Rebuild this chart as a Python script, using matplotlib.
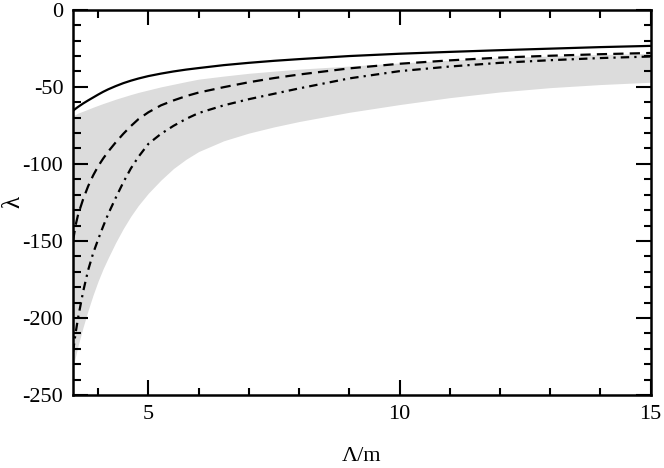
import matplotlib
matplotlib.use("Agg")
import matplotlib.pyplot as plt
import numpy as np

plt.rcParams['font.family'] = ['Liberation Serif', 'DejaVu Serif']

# Lambda/m grid
lam_m = [3.5, 3.55, 3.6, 3.7, 3.8, 3.9, 4.0, 4.1, 4.2, 4.35, 4.5, 4.65, 4.8,
         5.0, 5.25, 5.5, 5.75, 6.0, 6.5, 7.0, 7.5, 8.0, 9.0, 10.0, 11.0,
         12.0, 13.0, 14.0, 15.0]

solid = [-65.5, -64.2, -63.0, -60.8, -58.8, -56.9, -55.0, -53.2, -51.6, -49.5,
         -47.6, -46.0, -44.6, -43.0, -41.4, -40.0, -38.8, -37.8, -35.9, -34.4,
         -33.1, -32.0, -30.0, -28.5, -27.3, -26.2, -25.2, -24.2, -23.4]

dashed = [-150, -140, -133, -123, -114.5, -107.5, -101.5, -96.5, -92, -86,
          -80.5, -75.5, -71, -66.5, -62, -58.8, -56, -53.7, -50.2, -47,
          -44.3, -42, -38, -35, -32.8, -31, -29.8, -28.8, -28.0]

dashdot = [-222, -210, -200, -183, -169, -158, -149, -140.5, -132.5, -122,
           -112, -103, -95.5, -87, -80.5, -75.3, -70.8, -67, -62, -58,
           -54.5, -51, -44.5, -39.8, -36.8, -34.4, -32.7, -31.3, -30.3]

band_upper = [-68.5, -68, -67, -65.8, -64.5, -63.2, -62, -60.8, -59.7, -58,
              -56.5, -55, -53.6, -52, -50, -48.3, -46.6, -45, -43, -41.2,
              -39.8, -38.5, -36.5, -34.5, -32.7, -31, -30, -29, -28.3]

band_lower = [-232, -225, -218, -206, -195, -185, -176, -168, -161, -151,
              -142, -134, -127, -119, -110.5, -103, -97, -92, -85, -80,
              -76, -72.5, -66.5, -61.5, -57, -53.3, -50.5, -48.5, -47]

xticks = [5, 10, 15]
yticks = [-250, -200, -150, -100, -50, 0]

fig = plt.figure(figsize=(6.64, 4.68), dpi=100)
ax = fig.add_axes([0.110, 0.156, 0.870, 0.823])

ax.fill_between(lam_m, band_lower, band_upper, color='#dcdcdc', linewidth=0)
ax.plot(lam_m, solid, color='black', lw=1.6, linestyle='-')
ax.plot(lam_m, dashed, color='black', lw=1.6, linestyle=(0, (4.6, 2.8)))
ax.plot(lam_m, dashdot, color='black', lw=1.6, linestyle=(0, (3.8, 2.3, 1.0, 2.3)))

ax.set_xlim(3.5, 15)
ax.set_ylim(-250, 0)
ax.set_xticks(xticks)
ax.set_yticks(yticks)
ax.set_xticks(np.arange(4, 15, 1), minor=True)
ax.set_yticks(np.arange(-240, 0, 10), minor=True)
ax.set_xticklabels([str(t) for t in xticks])
ax.set_yticklabels([str(t) for t in yticks])

ax.tick_params(which='both', direction='in', top=True, right=True, width=1.5,
               labelsize=16)
ax.tick_params(which='major', length=10.8, pad=7)
ax.tick_params(which='minor', length=5.4)
for s in ax.spines.values():
    s.set_linewidth(1.8)

ax.set_xlabel('Λ/m', fontsize=16, labelpad=17)
ax.set_ylabel('λ', fontsize=18)
ax.yaxis.set_label_coords(-0.085, 0.5)

fig.savefig('out.png', dpi=100)
